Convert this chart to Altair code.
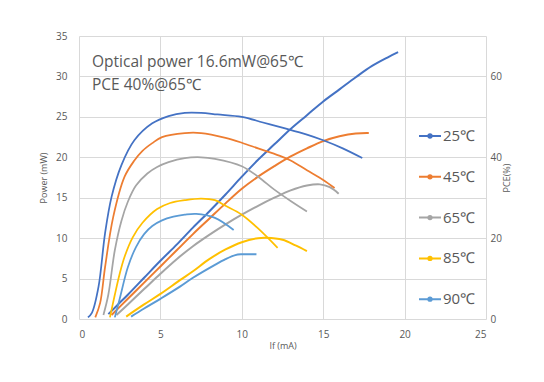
import altair as alt
import pandas as pd

temps = ["25℃", "45℃", "65℃", "85℃", "90℃"]
colors = ["#4472C4", "#ED7D31", "#A5A5A5", "#FFC000", "#5B9BD5"]

# Optical power (mW) vs If (mA)
p25_x = [1.8, 2.5, 3, 4, 5, 6, 7, 8, 9, 10, 11, 12, 13, 14, 15, 16, 17, 18, 19, 19.6]
p25_y = [0.6, 2.0, 3.0, 5.1, 7.2, 9.2, 11.3, 13.3, 15.4, 17.6, 19.7, 21.6, 23.5, 25.2, 26.9, 28.4, 29.9, 31.3, 32.4, 33.0]
p45_x = [2, 3, 4, 5, 6, 7, 8, 9, 10, 11, 12, 13, 14, 15, 16, 17, 17.8]
p45_y = [0.5, 2.5, 4.5, 6.5, 8.5, 10.5, 12.4, 14.3, 16.1, 17.6, 18.9, 20.1, 21.1, 22.0, 22.6, 22.95, 23.0]
p65_x = [2.3, 3, 4, 5, 6, 7, 8, 9, 10, 11, 12, 13, 14, 14.8, 15.4, 15.95]
p65_y = [0.5, 1.8, 3.7, 5.6, 7.4, 9.0, 10.4, 11.7, 12.9, 14.0, 15.0, 15.9, 16.5, 16.65, 16.3, 15.5]
p85_x = [2.9, 4, 5, 6.2, 7, 8, 9, 10, 11, 11.5, 12.5, 13.3, 14]
p85_y = [0.3, 1.8, 3.1, 4.8, 5.9, 7.4, 8.6, 9.5, 10.0, 10.05, 9.8, 9.1, 8.4]
p90_x = [3.2, 4, 5, 6.2, 7, 8.35, 9, 9.6, 10, 10.9]
p90_y = [0.3, 1.3, 2.5, 4.0, 5.1, 6.7, 7.4, 7.9, 8.0, 8.0]

# PCE (%) vs If (mA)
e25_x = [0.55, 0.8, 1.2, 1.6, 2, 2.6, 3.4, 4.5, 5.5, 6.5, 7.5, 8.5, 10, 11.3, 12.6, 14, 15, 16.2, 17.4]
e25_y = [0.4, 1.6, 8, 21.2, 30.2, 38, 44.2, 48.4, 50.2, 51, 51, 50.6, 50, 48.6, 47.2, 45.6, 44.2, 42.2, 39.8]
e45_x = [1.0, 1.3, 1.6, 2.1, 2.8, 3.4, 3.9, 4.5, 5.1, 6.5, 7.5, 9, 10, 11, 12.3, 13, 14, 15, 15.7]
e45_y = [0.4, 4, 12.8, 25.2, 35.2, 39.2, 41.6, 43.5, 45, 46, 46, 44.8, 43.6, 42.2, 40.4, 39.2, 36.8, 34.4, 32.4]
e65_x = [1.5, 1.8, 2.2, 2.6, 3, 3.5, 4.2, 4.8, 5.5, 6.5, 7.5, 8.35, 10, 11, 12, 13, 14]
e65_y = [1, 6, 17, 24.2, 29, 33, 36, 37.6, 38.8, 39.8, 40, 39.6, 37.8, 35.2, 32, 29.2, 26.6]
e85_x = [1.9, 2.2, 2.5, 2.8, 3.3, 3.9, 4.8, 5.6, 6.5, 7.5, 8.35, 9, 10, 11, 12.2]
e85_y = [0.4, 6, 11.2, 15.4, 20.2, 23.8, 27.2, 28.7, 29.4, 29.8, 29.4, 28, 25.8, 22.4, 17.6]
e90_x = [2.2, 2.5, 3, 3.5, 4, 4.5, 5.1, 5.8, 6.5, 7.2, 8.35, 9.5]
e90_y = [0.4, 5, 12.8, 17.8, 21.0, 23.0, 24.4, 25.3, 25.8, 26, 25, 22]

notes = ["Optical power 16.6mW@65℃", "PCE 40%@65℃"]
notes_x = [0.8, 0.8]
notes_y = [31.8, 29.0]

power_sets = [(p25_x, p25_y), (p45_x, p45_y), (p65_x, p65_y), (p85_x, p85_y), (p90_x, p90_y)]
pce_sets = [(e25_x, e25_y), (e45_x, e45_y), (e65_x, e65_y), (e85_x, e85_y), (e90_x, e90_y)]

rows = []
for t, (xs, ys) in zip(temps, power_sets):
    for a, b in zip(xs, ys):
        rows.append({"T": t, "If": a, "P": b})
df_p = pd.DataFrame(rows)
rows = []
for t, (xs, ys) in zip(temps, pce_sets):
    for a, b in zip(xs, ys):
        rows.append({"T": t, "If": a, "PCE": b})
df_e = pd.DataFrame(rows)
df_n = pd.DataFrame({"If": notes_x, "P": notes_y, "t": notes})

FONT = "Open Sans"
GRAY = "#595959"

xenc = alt.X("If:Q", scale=alt.Scale(domain=[0, 25], nice=False),
             axis=alt.Axis(values=[0, 5, 10, 15, 20, 25], title="If (mA)", grid=True,
                           domain=False, ticks=False, labelPadding=10, titlePadding=2,
                           labelFontSize=10, titleFontSize=9, labelColor=GRAY, titleColor=GRAY,
                           titleFontWeight="normal", labelFont=FONT, titleFont=FONT))

yleft = alt.Y("P:Q", scale=alt.Scale(domain=[0, 35], nice=False),
              axis=alt.Axis(values=[0, 5, 10, 15, 20, 25, 30, 35], title="Power (mW)", grid=True,
                            domain=False, ticks=False, labelPadding=12, titlePadding=7,
                            labelFontSize=10, titleFontSize=9, labelColor=GRAY, titleColor=GRAY,
                            titleFontWeight="normal", labelFont=FONT, titleFont=FONT))

legend_symbol = "M-1,0L1,0M-0.15,0A0.15,0.15,0,1,1,0.15,0A0.15,0.15,0,1,1,-0.15,0Z"
cenc = alt.Color("T:N", scale=alt.Scale(domain=temps, range=colors),
                 legend=alt.Legend(title=None, orient="none", legendX=339, legendY=88,
                                   symbolType=legend_symbol, symbolSize=484, symbolStrokeWidth=2,
                                   labelFontSize=15, labelColor=GRAY, labelFont=FONT,
                                   rowPadding=20.8, labelOffset=1))

power = alt.Chart(df_p).mark_line(interpolate="catmull-rom", strokeWidth=2).encode(
    x=xenc, y=yleft, color=cenc,
)

text = alt.Chart(df_n).mark_text(align="left", baseline="middle", fontSize=15.5, font=FONT,
                                  color=GRAY).encode(
    x=xenc, y=yleft, text="t:N",
)

pce = alt.Chart(df_e).mark_line(interpolate="catmull-rom", strokeWidth=1.75).encode(
    x=xenc,
    y=alt.Y("PCE:Q", scale=alt.Scale(domain=[0, 70], nice=False),
            axis=alt.Axis(orient="right", values=[0, 20, 40, 60], title="PCE(%)", grid=False,
                          domain=False, ticks=False, labelPadding=4, titlePadding=10,
                          titleAngle=270, labelFontSize=10, titleFontSize=9, labelColor=GRAY,
                          titleColor=GRAY, titleFontWeight="normal", labelFont=FONT,
                          titleFont=FONT)),
    color=cenc,
)

chart = alt.layer(alt.layer(power, text), pce).resolve_scale(y="independent").properties(
    width=407, height=283,
    autosize=alt.AutoSizeParams(type="none"),
    padding={"left": 71, "top": 28, "right": 40, "bottom": 50},
).configure_view(stroke=None).configure_axis(gridColor="#D9D9D9", gridWidth=1)

chart.save("out.html", embed_options={"renderer": "svg", "actions": False})
